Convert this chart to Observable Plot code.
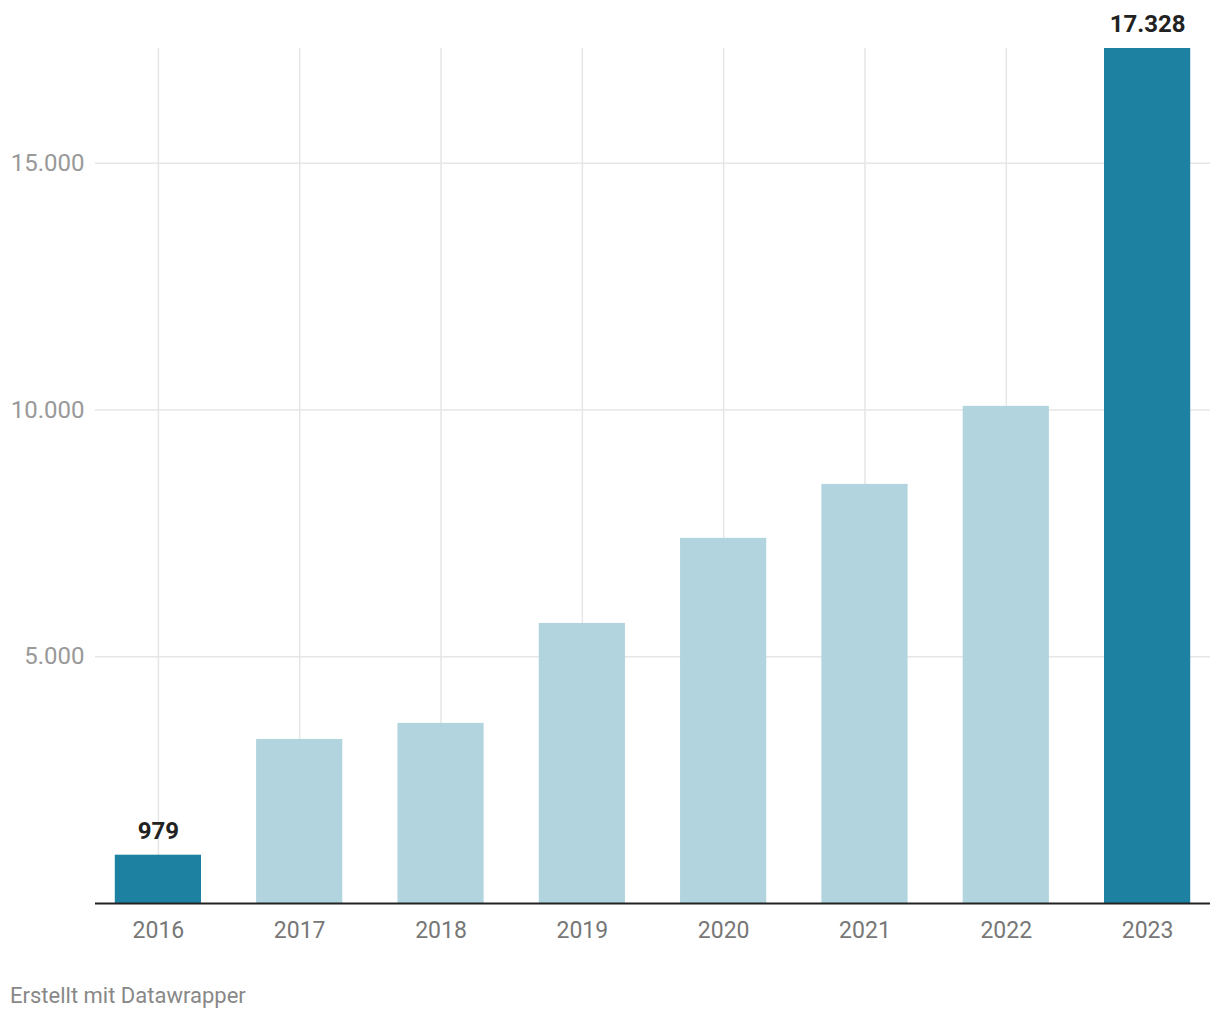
<!DOCTYPE html>
<html>
<head>
<meta charset="utf-8">
<script src="https://cdn.jsdelivr.net/npm/d3@7"></script>
<script src="https://cdn.jsdelivr.net/npm/@observablehq/plot@0.6"></script>
<style>
  html, body { margin: 0; padding: 0; background: #fff; font-family: Roboto, sans-serif; }
  #chart svg { display: block; }
  .caption { font-family: Roboto, sans-serif; font-size: 22px; color: #888; margin: 33px 0 0 10px; line-height: 1.2; }
</style>
</head>
<body>
<div id="chart"></div>
<div class="caption">Erstellt mit Datawrapper</div>
<script>
const years = ["2016", "2017", "2018", "2019", "2020", "2021", "2022", "2023"];
const values = [979, 3325, 3650, 5676, 7400, 8494, 10075, 17328];
const highlighted = ["2016", "2023"];
const yTicks = [5000, 10000, 15000];

const data = years.map((y, i) => ({year: y, value: values[i], hl: highlighted.includes(y)}));
const fmt = d3.formatLocale({decimal: ",", thousands: ".", grouping: [3], currency: ["", "€"]}).format(",d");

const chart = Plot.plot({
  width: 1220,
  height: 950,
  marginTop: 48,
  marginBottom: 47,
  marginLeft: 95,
  marginRight: 10,
  style: {fontFamily: "Roboto, sans-serif", fontSize: "23px", color: "#888"},
  x: {domain: years, paddingInner: 0.39, paddingOuter: 0.14, round: false, label: null, tickSize: 0, tickPadding: 18},
  y: {domain: [0, 17328], label: null, ticks: yTicks, tickSize: 0, tickPadding: 11, tickFormat: fmt},
  marks: [
    Plot.gridX({stroke: "#e6e6e6", strokeOpacity: 1, strokeWidth: 1.5}),
    Plot.gridY(yTicks, {stroke: "#e6e6e6", strokeOpacity: 1, strokeWidth: 1.5}),
    Plot.barY(data, {x: "year", y: "value", fill: d => d.hl ? "#1d81a2" : "#b2d4de"}),
    Plot.ruleY([0], {stroke: "#222", strokeWidth: 2}),
    Plot.text(data.filter(d => d.hl), {x: "year", y: "value", text: d => fmt(d.value), dy: -24, fill: "#222", fontWeight: "bold", fontSize: 24}),
    Plot.axisX({tickSize: 0, tickPadding: 18, fill: "#777", fontSize: 23}),
    Plot.axisY(yTicks, {tickSize: 0, tickPadding: 11, tickFormat: fmt, fill: "#999", fontSize: 24})
  ]
});
document.getElementById("chart").appendChild(chart);
</script>
</body>
</html>
